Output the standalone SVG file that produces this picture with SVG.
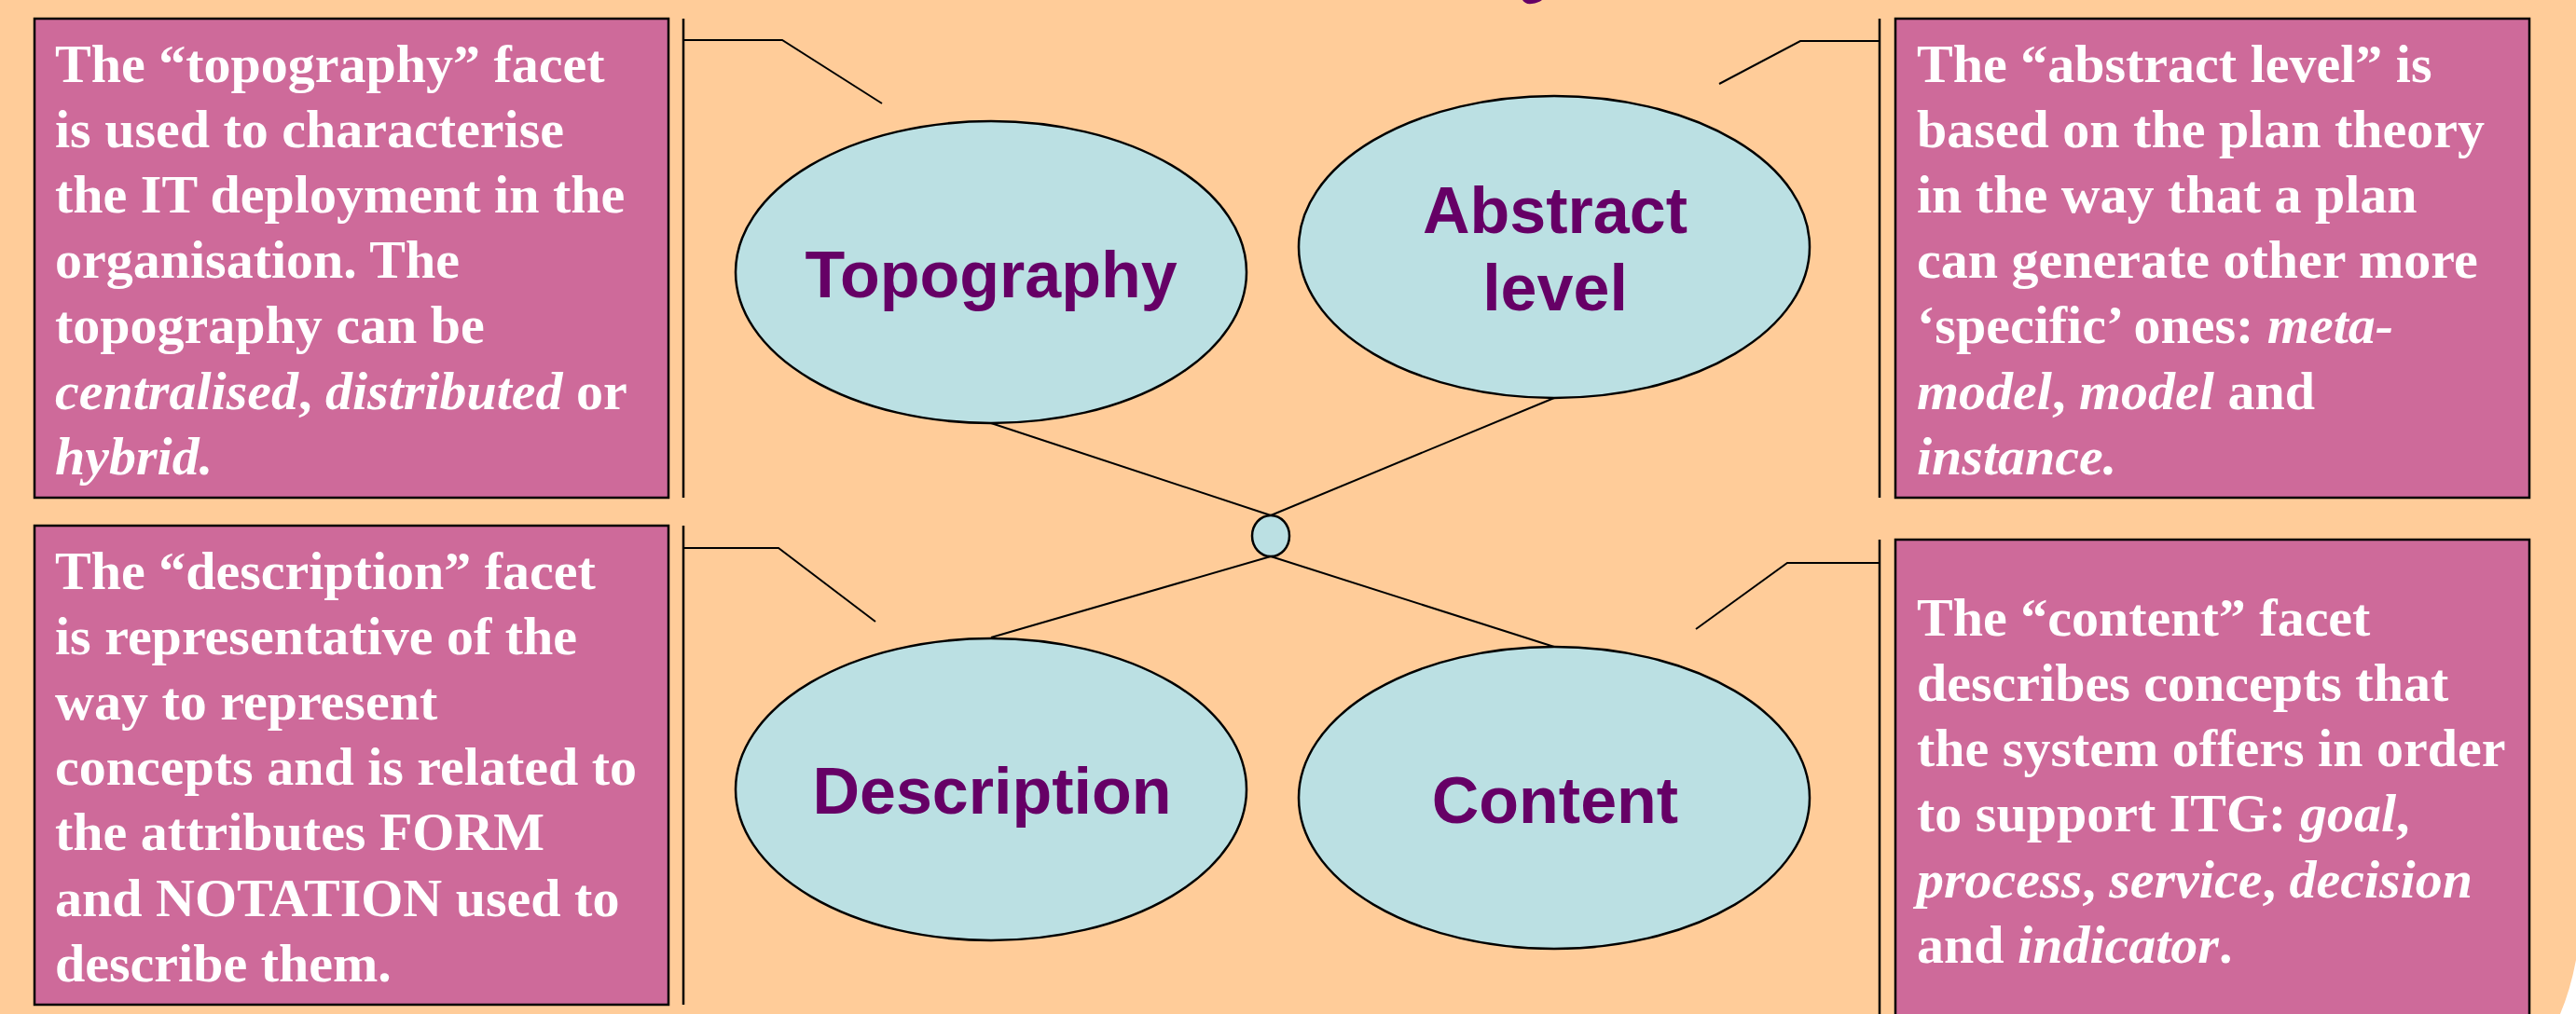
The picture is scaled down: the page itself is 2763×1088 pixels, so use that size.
<svg xmlns="http://www.w3.org/2000/svg" width="2763" height="1088" viewBox="0 0 2763 1088">
<style>
.bg{fill:#FFCC99}
.box{fill:#CE6A9A;stroke:#000;stroke-width:2.5}
.bt{font-family:"Liberation Serif","Times New Roman",serif;font-weight:bold;font-size:58px;fill:#fff}
.it{font-style:italic}
.ell{fill:#BBE0E3;stroke:#000;stroke-width:2.5}
.lbl{font-family:"Liberation Sans",Arial,sans-serif;font-weight:bold;font-size:70px;fill:#660066;text-anchor:middle}
.ln{fill:none;stroke:#000;stroke-width:2}
.vl{fill:none;stroke:#000;stroke-width:2.5}
</style>
<rect class="bg" x="0" y="0" width="2763" height="1088"/>
<path d="M2746,1088 Q2757,1062 2763,1030 L2763,1088 Z" fill="#fff"/>
<path d="M1633,0 Q1636,5 1643,4 Q1650,3 1654,0 Z" fill="#660066"/>

<g id="connectors">
  <line class="ln" x1="1363" y1="553" x2="1063" y2="454"/>
  <line class="ln" x1="1363" y1="553" x2="1667" y2="427"/>
  <line class="ln" x1="1363" y1="597" x2="1063" y2="684"/>
  <line class="ln" x1="1363" y1="597" x2="1667" y2="694"/>
  <line class="vl" x1="733" y1="20" x2="733" y2="534"/>
  <polyline class="ln" points="733,43 839,43 946,111"/>
  <line class="vl" x1="2016" y1="20" x2="2016" y2="534"/>
  <polyline class="ln" points="2016,44 1931,44 1844,90"/>
  <line class="vl" x1="733" y1="564" x2="733" y2="1078"/>
  <polyline class="ln" points="733,588 835,588 939,667"/>
  <line class="vl" x1="2016" y1="579" x2="2016" y2="1088"/>
  <polyline class="ln" points="2016,604 1917,604 1819,675"/>
</g>

<g id="hub">
  <ellipse class="ell" cx="1363" cy="575" rx="20" ry="22" stroke-width="2"/>
</g>

<g id="topography">
  <ellipse class="ell" cx="1063" cy="292" rx="274" ry="162"/>
  <text class="lbl" x="1063" y="319">Topography</text>
</g>
<g id="abstract-level">
  <ellipse class="ell" cx="1667" cy="265" rx="274" ry="162"/>
  <text class="lbl" x="1668" y="250">Abstract</text>
  <text class="lbl" x="1668" y="333">level</text>
</g>
<g id="description">
  <ellipse class="ell" cx="1063" cy="847" rx="274" ry="162"/>
  <text class="lbl" x="1064" y="873">Description</text>
</g>
<g id="content">
  <ellipse class="ell" cx="1667" cy="856" rx="274" ry="162"/>
  <text class="lbl" x="1668" y="883">Content</text>
</g>

<g id="box-topography">
  <rect class="box" x="37" y="20" width="680" height="514"/>
  <text class="bt" x="59" y="88">The “topography” facet</text>
  <text class="bt" x="59" y="158">is used to characterise</text>
  <text class="bt" x="59" y="228">the IT deployment in the</text>
  <text class="bt" x="59" y="298">organisation. The</text>
  <text class="bt" x="59" y="368">topography can be</text>
  <text class="bt" x="59" y="439"><tspan class="it">centralised</tspan>, <tspan class="it">distributed</tspan> or</text>
  <text class="bt" x="59" y="509"><tspan class="it">hybrid.</tspan></text>
</g>

<g id="box-description">
  <rect class="box" x="37" y="564" width="680" height="514"/>
  <text class="bt" x="59" y="632">The “description” facet</text>
  <text class="bt" x="59" y="702">is representative of the</text>
  <text class="bt" x="59" y="772">way to represent</text>
  <text class="bt" x="59" y="842">concepts and is related to</text>
  <text class="bt" x="59" y="912">the attributes FORM</text>
  <text class="bt" x="59" y="983">and NOTATION used to</text>
  <text class="bt" x="59" y="1053">describe them.</text>
</g>

<g id="box-abstract-level">
  <rect class="box" x="2033" y="20" width="680" height="514"/>
  <text class="bt" x="2056" y="88">The “abstract level” is</text>
  <text class="bt" x="2056" y="158">based on the plan theory</text>
  <text class="bt" x="2056" y="228">in the way that a plan</text>
  <text class="bt" x="2056" y="298">can generate other more</text>
  <text class="bt" x="2056" y="368">‘specific’ ones: <tspan class="it">meta-</tspan></text>
  <text class="bt" x="2056" y="439"><tspan class="it">model</tspan>, <tspan class="it">model</tspan> and</text>
  <text class="bt" x="2056" y="509"><tspan class="it">instance.</tspan></text>
</g>

<g id="box-content">
  <rect class="box" x="2033" y="579" width="680" height="520"/>
  <text class="bt" x="2056" y="682">The “content” facet</text>
  <text class="bt" x="2056" y="752">describes concepts that</text>
  <text class="bt" x="2056" y="822">the system offers in order</text>
  <text class="bt" x="2056" y="892">to support ITG: <tspan class="it">goal</tspan>,</text>
  <text class="bt" x="2056" y="963"><tspan class="it">process</tspan>, <tspan class="it">service</tspan>, <tspan class="it">decision</tspan></text>
  <text class="bt" x="2056" y="1033">and <tspan class="it">indicator</tspan>.</text>
</g>
</svg>
